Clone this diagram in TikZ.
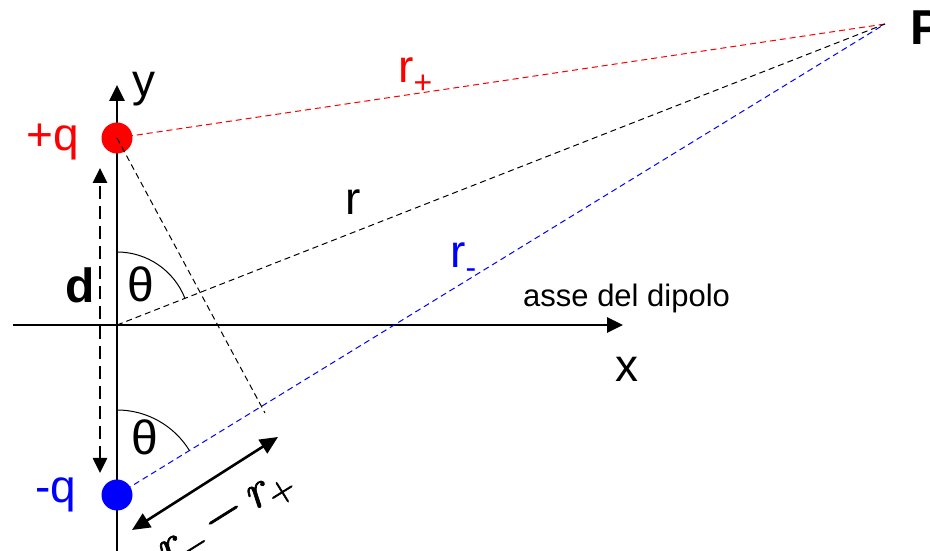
\documentclass[tikz,border=0pt]{standalone}
\usepackage{fontspec}
\setmainfont{Liberation Sans}
\newfontfamily\lmr{lmroman10-regular.otf}[ItalicFont=lmroman10-italic.otf,FakeBold=1.6,ItalicFeatures={FakeBold=1.6}]
\usetikzlibrary{arrows.meta}
\begin{document}
\begin{tikzpicture}[x=1pt,y=1pt,
  axis/.style={line width=2.8pt,-{Triangle[length=16pt,width=15pt]}},
  thindash/.style={line width=1pt,dash pattern=on 6pt off 4pt},
  darrow/.style={line width=2.6pt,dash pattern=on 13pt off 7pt,{Triangle[length=15pt,width=14pt]}-{Triangle[length=15pt,width=14pt]}},
  diffarrow/.style={line width=2.6pt,{Triangle[length=18pt,width=16pt]}-{Triangle[length=18pt,width=16pt]}},
  lbl/.style={inner sep=0pt,anchor=base west,font=\fontsize{46}{50}\selectfont},
  charge/.style={circle,inner sep=0pt,minimum size=31pt}
]
\useasboundingbox (0,0) rectangle (930,551);
% key points
\coordinate (O) at (117,226);
\coordinate (P) at (885,527);
\coordinate (Qp) at (117,413);
\coordinate (Qm) at (117,56);
\coordinate (F) at (265,138);
\coordinate (ybot) at (117,0);
\coordinate (ytop) at (117,466);
\coordinate (xleft) at (13,226);
\coordinate (xright) at (623,226);
\coordinate (dtop) at (100,383);
\coordinate (dbot) at (100,78);
\coordinate (A1) at (132,21);
\coordinate (A2) at (278,114);
% axes
\draw[axis] (ybot) -- (ytop);
\draw[axis] (xleft) -- (xright);
% distance lines
\draw[thindash,red] (Qp) -- (P);
\draw[thindash,black] (O) -- (P);
\draw[thindash,blue] (Qm) -- (P);
% charges
\node[charge,fill=red] (cp) at (Qp) {};
\node[charge,fill=blue] (cm) at (Qm) {};
% perpendicular
\draw[thindash,black] (Qp) -- (F);
% angles
\draw[line width=1pt] ([shift={(90:73pt)}]O) arc[start angle=90,end angle=21.4,radius=73pt];
\draw[line width=1pt] ([shift={(90:85pt)}]Qm) arc[start angle=90,end angle=31.5,radius=85pt];
% d arrow
\draw[darrow] (dbot) -- (dtop);
% r- - r+ arrow
\draw[diffarrow] (A1) -- (A2);
% labels
\node[lbl,text=red] (lqp) at (26,400) {+q};
\node[lbl,text=blue] (lqm) at (35,48) {-q};
\node[lbl] (ly) at (132,454) {y};
\node[lbl,font=\fontsize{48}{50}\selectfont] (lt1) at (127,249) {θ};
\node[lbl,font=\fontsize{48}{50}\selectfont] (lt2) at (131,96) {θ};
\node[lbl,font=\fontsize{48}{50}\selectfont\bfseries] (ld) at (65,248) {d};
\node[lbl] (lr) at (345,336) {r};
\node[lbl,text=red] (lrp) at (398,468) {r\raisebox{-11pt}{\fontsize{32}{32}\selectfont +}};
\node[lbl,text=blue] (lrm) at (450,283) {r\raisebox{-11pt}{\fontsize{32}{32}\selectfont -}};
\node[lbl] (lx) at (615,169) {x};
\node[lbl,font=\fontsize{31}{33}\selectfont] (lasse) at (523,244) {asse del dipolo};
\node[lbl,font=\fontsize{49}{52}\selectfont\bfseries] (lP) at (910,506) {P};
\node[inner sep=0pt,rotate=32,font=\fontsize{50}{52}\selectfont\lmr] (ldiff) at (227,30)
  {\itshape r\raisebox{-8pt}{\fontsize{35}{35}\selectfont\upshape −}\kern8pt\upshape −\kern8pt\itshape r\raisebox{-8pt}{\fontsize{35}{35}\selectfont\upshape +}};
\end{tikzpicture}
\end{document}
